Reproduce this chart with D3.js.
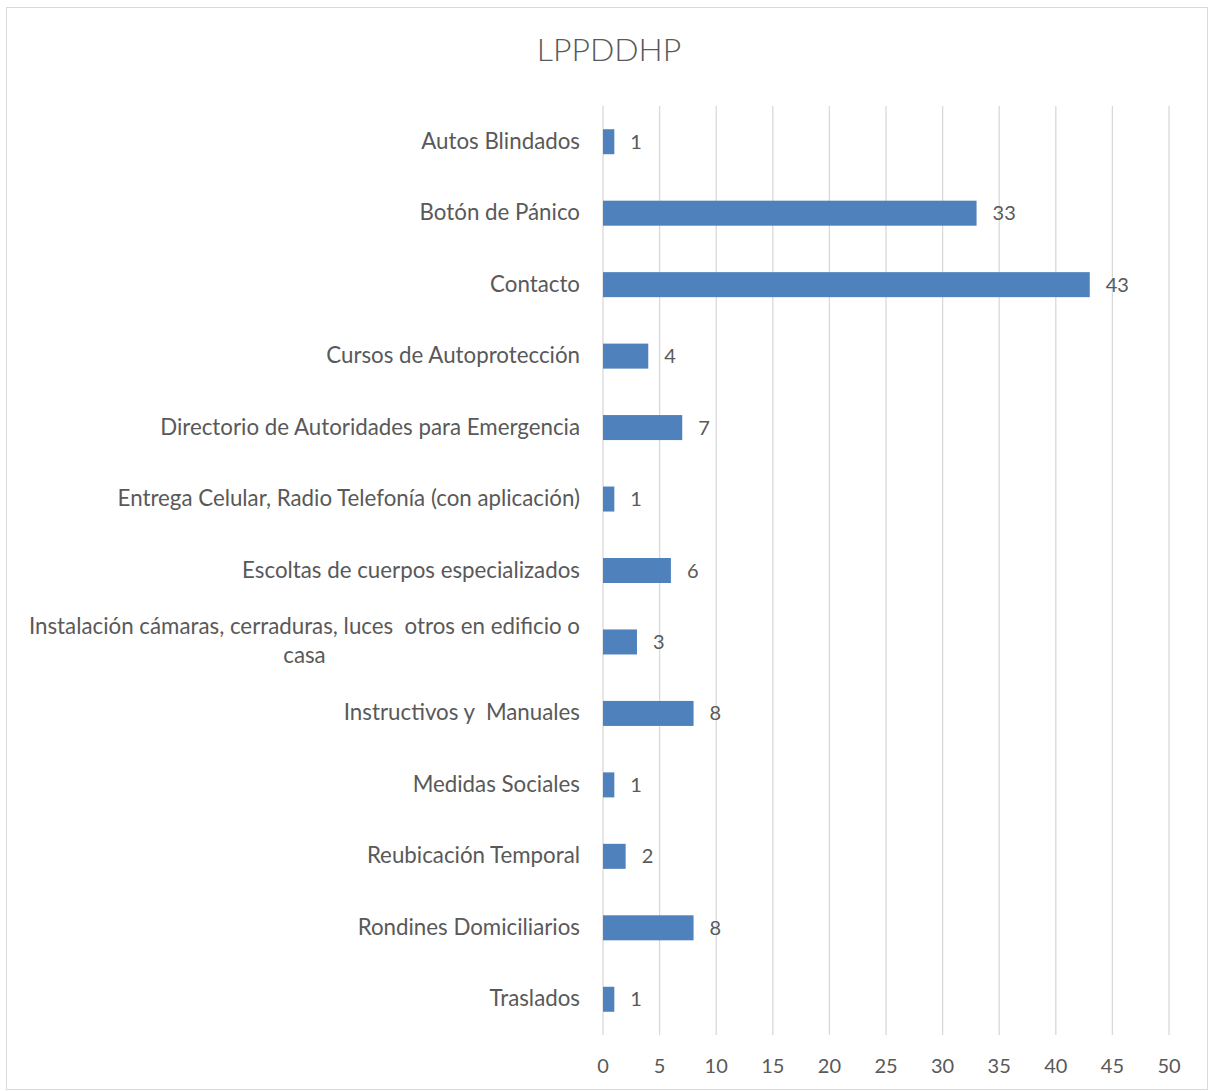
<!DOCTYPE html>
<html>
<head>
<meta charset="utf-8">
<script src="https://cdn.jsdelivr.net/npm/d3@7"></script>
<style>
  body { margin: 0; background: #fff; }
  text { font-family: Lato, "Open Sans", sans-serif; fill: #595959; white-space: pre; }
</style>
</head>
<body>
<svg id="chart"></svg>
<script>
const categories = [
  'Autos Blindados',
  'Botón de Pánico',
  'Contacto',
  'Cursos de Autoprotección',
  'Directorio de Autoridades para Emergencia',
  'Entrega Celular, Radio Telefonía (con aplicación)',
  'Escoltas de cuerpos especializados',
  'Instalación cámaras, cerraduras, luces  otros en edificio o casa',
  'Instructivos y  Manuales',
  'Medidas Sociales',
  'Reubicación Temporal',
  'Rondines Domiciliarios',
  'Traslados'
]
const values = [1, 33, 43, 4, 7, 1, 6, 3, 8, 1, 2, 8, 1]
const xTicks = [0, 5, 10, 15, 20, 25, 30, 35, 40, 45, 50]
const title = 'LPPDDHP'

let width = 1209,
height = 1091

let svg = d3.select('#chart')
  .attr('width', width)
  .attr('height', height)

// outer frame
svg.append('rect')
  .attr('x', 6.5).attr('y', 7.5)
  .attr('width', 1201).attr('height', 1082)
  .attr('fill', 'none').attr('stroke', '#d9d9d9')

svg.append('text')
  .attr('x', 609).attr('y', 61)
  .attr('text-anchor', 'middle')
  .style('font-size', '32px')
  .style('font-weight', 300)
  .text(title)

let x = d3.scaleLinear().domain([0, 50]).range([603, 1169])
let y = d3.scaleBand().domain(categories).range([106, 1035]).paddingInner(0.65).paddingOuter(0.325)

// gridlines
svg.append('g').selectAll('line')
  .data(xTicks)
  .enter().append('line')
  .attr('x1', d => x(d)).attr('x2', d => x(d))
  .attr('y1', 106).attr('y2', 1035)
  .attr('stroke', '#d9d9d9').attr('stroke-width', 1.3)

// x tick labels
svg.append('g').selectAll('text')
  .data(xTicks)
  .enter().append('text')
  .attr('x', d => x(d)).attr('y', 1073)
  .attr('text-anchor', 'middle')
  .style('font-size', '20px')
  .text(d => d)

// bars
svg.append('g').selectAll('rect')
  .data(values)
  .enter().append('rect')
  .attr('x', x(0))
  .attr('y', (d, i) => y(categories[i]))
  .attr('width', d => x(d) - x(0))
  .attr('height', y.bandwidth())
  .attr('fill', '#4f81bd')

// value labels
svg.append('g').selectAll('text')
  .data(values)
  .enter().append('text')
  .attr('x', d => x(d) + 16)
  .attr('y', (d, i) => y(categories[i]) + y.bandwidth() / 2 + 7)
  .style('font-size', '20px')
  .text(d => d)

// category labels, wrapped and centred on the longest line
let maxW = 560
let labels = svg.append('g').selectAll('text')
  .data(categories)
  .enter().append('text')
  .style('font-size', '22.3px')

labels.each(function (d) {
  let t = d3.select(this)
  let words = d.split(' ')
  let lines = [], cur = null
  let probe = t.append('tspan')
  words.forEach(w => {
    let test = cur === null ? w : cur + ' ' + w
    probe.text(test)
    if (probe.node().getComputedTextLength() > maxW && cur !== null) {
      lines.push(cur)
      cur = w
    } else {
      cur = test
    }
  })
  lines.push(cur)
  probe.remove()
  let cy = y(d) + y.bandwidth() / 2
  if (lines.length === 1) {
    t.attr('x', 580).attr('y', cy + 7).attr('text-anchor', 'end').text(lines[0])
  } else {
    let widths = lines.map(l => {
      let s = t.append('tspan').text(l)
      let w = s.node().getComputedTextLength()
      s.remove()
      return w
    })
    let mid = 580 - d3.max(widths) / 2
    t.attr('text-anchor', 'middle')
    lines.forEach((l, i) => {
      t.append('tspan')
        .attr('x', mid)
        .attr('y', cy + 7 + (i - (lines.length - 1) / 2) * 29)
        .text(l)
    })
  }
})
</script>
</body>
</html>
